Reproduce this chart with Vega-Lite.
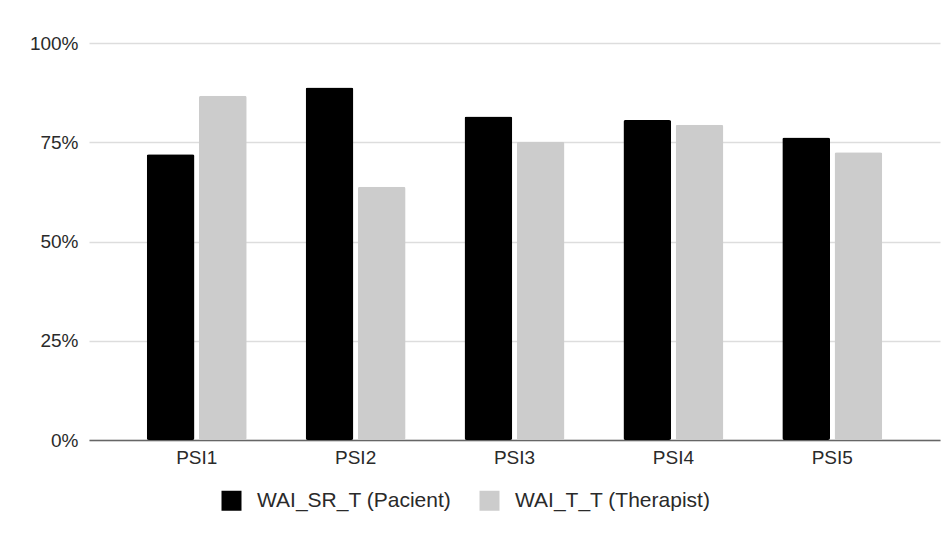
{
  "$schema": "https://vega.github.io/schema/vega-lite/v6.json",
  "width": 851,
  "height": 397,
  "autosize": {"type": "none"},
  "padding": {"left": 89, "top": 43, "right": 11, "bottom": 93},
  "background": "white",
  "data": {
    "values": [
      {"psi": "PSI1", "series": "WAI_SR_T (Pacient)", "value": 0.72},
      {"psi": "PSI1", "series": "WAI_T_T (Therapist)", "value": 0.867},
      {"psi": "PSI2", "series": "WAI_SR_T (Pacient)", "value": 0.888},
      {"psi": "PSI2", "series": "WAI_T_T (Therapist)", "value": 0.638},
      {"psi": "PSI3", "series": "WAI_SR_T (Pacient)", "value": 0.815},
      {"psi": "PSI3", "series": "WAI_T_T (Therapist)", "value": 0.751},
      {"psi": "PSI4", "series": "WAI_SR_T (Pacient)", "value": 0.806},
      {"psi": "PSI4", "series": "WAI_T_T (Therapist)", "value": 0.794},
      {"psi": "PSI5", "series": "WAI_SR_T (Pacient)", "value": 0.762},
      {"psi": "PSI5", "series": "WAI_T_T (Therapist)", "value": 0.725}
    ]
  },
  "mark": {"type": "bar", "cornerRadius": 2},
  "encoding": {
    "x": {
      "field": "psi",
      "type": "nominal",
      "scale": {"paddingInner": 0.371, "paddingOuter": 0.3635},
      "axis": {
        "title": null,
        "labelAngle": 0,
        "ticks": false,
        "domain": true,
        "domainColor": "#666666",
        "domainWidth": 1.5,
        "labelFont": "Liberation Sans",
        "labelFontSize": 19,
        "labelColor": "#2a2a2a",
        "labelPadding": 8
      }
    },
    "xOffset": {
      "field": "series",
      "type": "nominal",
      "scale": {"paddingInner": 0.086}
    },
    "y": {
      "field": "value",
      "type": "quantitative",
      "scale": {"domain": [0, 1]},
      "axis": {
        "title": null,
        "format": ".0%",
        "values": [0, 0.25, 0.5, 0.75, 1],
        "domain": false,
        "ticks": false,
        "gridColor": "#dddddd",
        "gridWidth": 1.5,
        "labelFont": "Liberation Sans",
        "labelFontSize": 19,
        "labelColor": "#2a2a2a",
        "labelPadding": 11
      }
    },
    "color": {
      "field": "series",
      "type": "nominal",
      "scale": {"range": ["#000000", "#cccccc"]},
      "legend": {
        "title": null,
        "orient": "none",
        "direction": "horizontal",
        "legendX": 132,
        "legendY": 447,
        "symbolType": "square",
        "symbolSize": 400,
        "symbolStrokeWidth": 0,
        "labelFont": "Liberation Sans",
        "labelFontSize": 21,
        "labelColor": "#2a2a2a",
        "labelLimit": 0,
        "labelOffset": 15,
        "columnPadding": 27
      }
    }
  },
  "config": {"view": {"stroke": null}}
}
